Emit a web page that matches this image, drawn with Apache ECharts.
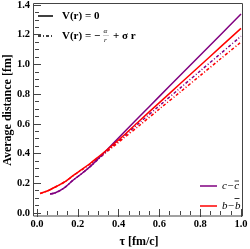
<!DOCTYPE html>
<html><head><meta charset="utf-8">
<script src="https://cdn.jsdelivr.net/npm/echarts@6/dist/echarts.min.js"></script>
<style>html,body{margin:0;padding:0;background:#fff}#c{width:250px;height:249px}</style>
</head><body><div id="c"></div>
<script>
const xTicks = [0.0, 0.2, 0.4, 0.6, 0.8, 1.0];
const yTicks = [0.0, 0.2, 0.4, 0.6, 0.8, 1.0, 1.2, 1.4];

const tauCcFree  = [0.064,0.09,0.13,0.178,0.22,0.26,0.30,0.342,0.38,0.423,0.5,0.6,0.7,0.8,0.9,1.0];
const distCcFree = [0.128,0.136,0.165,0.222,0.266,0.312,0.366,0.424,0.477,0.538,0.646,0.785,0.924,1.062,1.200,1.339];

const tauBbFree  = [0.015,0.05,0.097,0.14,0.178,0.22,0.26,0.30,0.342,0.38,0.423,0.5,0.6,0.7,0.8,0.9,1.0];
const distBbFree = [0.131,0.148,0.180,0.213,0.253,0.293,0.333,0.377,0.424,0.468,0.520,0.618,0.743,0.868,0.993,1.118,1.243];

const tauCcCornell  = [0.064,0.09,0.13,0.178,0.22,0.26,0.30,0.342,0.38,0.423,0.5,0.6,0.7,0.8,0.9,1.0];
const distCcCornell = [0.128,0.136,0.165,0.222,0.266,0.311,0.362,0.414,0.460,0.512,0.605,0.722,0.839,0.956,1.073,1.190];

const tauBbCornell  = [0.015,0.05,0.097,0.14,0.178,0.22,0.26,0.30,0.342,0.38,0.423,0.5,0.6,0.7,0.8,0.9,1.0];
const distBbCornell = [0.131,0.148,0.180,0.213,0.252,0.291,0.329,0.370,0.413,0.454,0.502,0.587,0.700,0.812,0.925,1.038,1.150];

const PURPLE = '#800080', RED = '#ff0000';
const FONT = 'Liberation Serif';
const pairs = (xs, ys) => xs.map((x, i) => [x, ys[i]]);

const chart = echarts.init(document.getElementById('c'), null, {renderer: 'canvas'});

function xAx(pos, labels) {
  return {
    type: 'value', position: pos, min: xTicks[0], max: xTicks[xTicks.length - 1],
    interval: xTicks[1] - xTicks[0], offset: pos === 'bottom' ? 3 : 2,
    axisLine: {show: false},
    axisTick: {show: true, inside: true, length: 4, lineStyle: {color: '#444'}},
    minorTick: {show: true, splitNumber: 4, length: 2, lineStyle: {color: '#444'}},
    splitLine: {show: false},
    axisLabel: {show: labels, margin: 3, color: '#000', fontFamily: FONT, fontWeight: 'bold', fontSize: 10.5,
      formatter: v => v.toFixed(1)},
    name: labels ? 'τ [fm/c]' : '', nameLocation: 'middle', nameGap: 20,
    nameTextStyle: {color: '#000', fontFamily: FONT, fontWeight: 'bold', fontSize: 12}
  };
}
function yAx(pos, labels) {
  return {
    type: 'value', position: pos, min: yTicks[0], max: yTicks[yTicks.length - 1],
    interval: yTicks[1] - yTicks[0], offset: pos === 'left' ? 4 : 2,
    axisLine: {show: false},
    axisTick: {show: true, inside: true, length: 4, lineStyle: {color: '#444'}},
    minorTick: {show: true, splitNumber: 4, length: 2, lineStyle: {color: '#444'}},
    splitLine: {show: false},
    axisLabel: {show: labels, margin: 3, color: '#000', fontFamily: FONT, fontWeight: 'bold', fontSize: 10.5,
      formatter: v => v.toFixed(1)}
  };
}
const solid = c => ({color: c, width: 1.5, type: 'solid'});
const dashed = c => ({color: c, width: 1.5, type: [3, 2, 1, 2]});
function line(name, data, style) {
  return {name, type: 'line', data, showSymbol: false, smooth: 0.3, lineStyle: style,
    xAxisIndex: 0, yAxisIndex: 0, silent: true, animation: false};
}
const T = (x, y, text, extra) => ({type: 'text', x, y, style: Object.assign({text, fill: '#000',
  font: 'bold 11px "Liberation Serif"', textVerticalAlign: 'middle'}, extra || {})});

chart.setOption({
  animation: false,
  grid: {left: 37, right: 9, top: 5, bottom: 36, containLabel: false, outerBoundsMode: 'none'},
  xAxis: [xAx('bottom', true), xAx('top', false)],
  yAxis: [yAx('left', true), yAx('right', false)],
  series: [
    line('cc Cornell', pairs(tauCcCornell, distCcCornell), dashed(PURPLE)),
    line('bb Cornell', pairs(tauBbCornell, distBbCornell), dashed(RED)),
    line('cc V=0', pairs(tauCcFree, distCcFree), solid(PURPLE)),
    line('bb V=0', pairs(tauBbFree, distBbFree), solid(RED))
  ],
  graphic: [
    {type: 'rect', shape: {x: 33.5, y: 3.5, width: 209, height: 212.5}, style: {fill: 'none', stroke: '#444', lineWidth: 1}, z: 0},
    {type: 'text', x: 8, y: 110, rotation: Math.PI / 2,
      style: {text: 'Average distance [fm]', fill: '#000', font: 'bold 12px "Liberation Serif"', textAlign: 'center', textVerticalAlign: 'middle'}},
    {type: 'line', shape: {x1: 38, y1: 16, x2: 53, y2: 16}, style: {stroke: '#000', lineWidth: 1.5}},
    T(62, 16, 'V(r) = 0'),
    {type: 'line', shape: {x1: 38, y1: 36, x2: 53, y2: 36}, style: {stroke: '#000', lineWidth: 1.5, lineDash: [3, 2, 1, 2]}},
    T(62, 36, 'V(r) = −'),
    T(103.5, 31.5, 'α', {font: 'italic 7px "Liberation Serif"'}),
    T(104, 40, 'r', {font: 'italic 7px "Liberation Serif"'}),
    {type: 'line', shape: {x1: 103, y1: 35.5, x2: 109, y2: 35.5}, style: {stroke: '#999', lineWidth: 0.5}},
    T(113, 36, '+ σ r'),
    {type: 'line', shape: {x1: 200, y1: 186, x2: 217, y2: 186}, style: {stroke: PURPLE, lineWidth: 1.5}},
    T(222, 186, 'c−c', {font: 'italic 11px "Liberation Serif"'}),
    {type: 'line', shape: {x1: 234.5, y1: 181, x2: 239, y2: 181}, style: {stroke: '#000', lineWidth: 0.8}},
    {type: 'line', shape: {x1: 200, y1: 206, x2: 217, y2: 206}, style: {stroke: RED, lineWidth: 1.5}},
    T(222, 206, 'b−b', {font: 'italic 11px "Liberation Serif"'}),
    {type: 'line', shape: {x1: 234.5, y1: 198.5, x2: 239.5, y2: 198.5}, style: {stroke: '#000', lineWidth: 0.8}}
  ]
});
</script></body></html>
